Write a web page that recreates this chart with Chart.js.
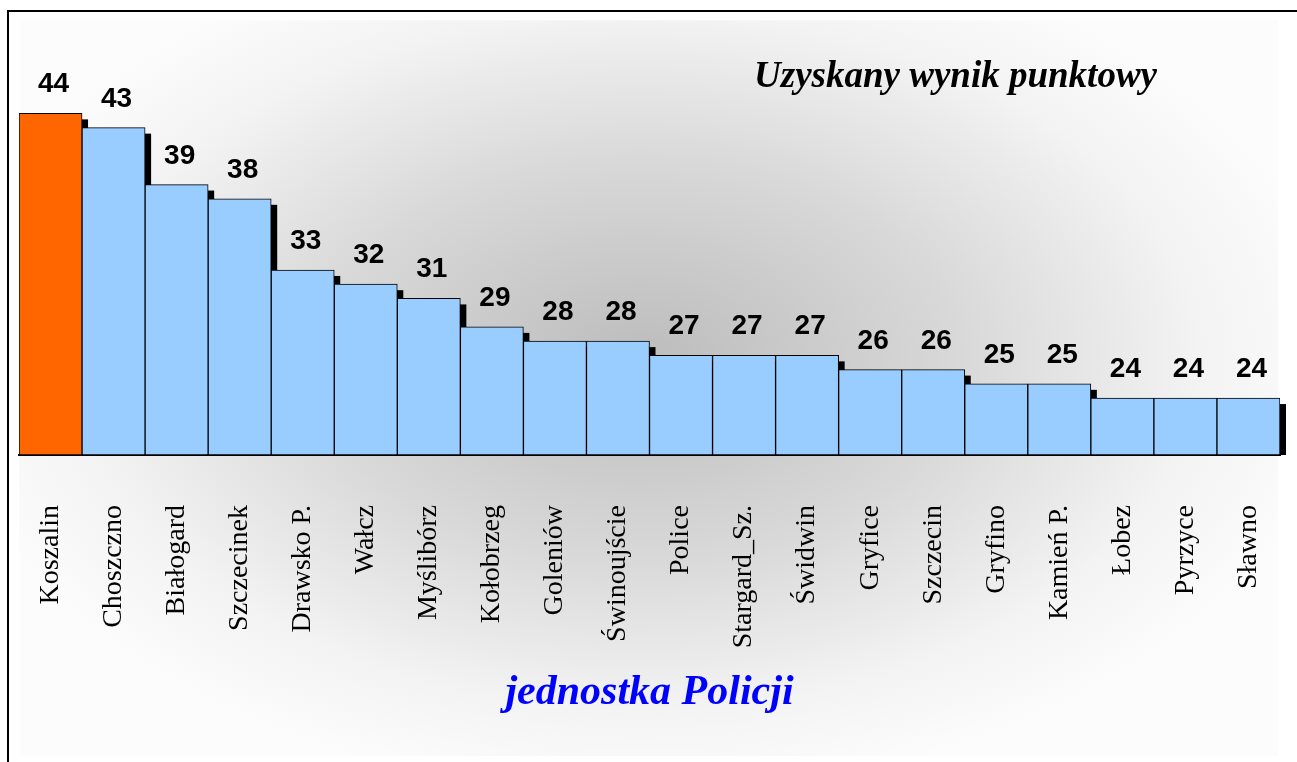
<!DOCTYPE html>
<html>
<head>
<meta charset="utf-8">
<script src="https://cdn.jsdelivr.net/npm/chart.js@4.4.0/dist/chart.umd.min.js"></script>
<style>
  body { margin: 0; background: #fff; }
  canvas { display: block; }
</style>
</head>
<body>
<canvas id="wynikChart" width="1297" height="762"></canvas>
<script>
// dane
const jednostki = ["Koszalin", "Choszczno", "Białogard", "Szczecinek", "Drawsko P.", "Wałcz", "Myślibórz",
  "Kołobrzeg", "Goleniów", "Świnoujście", "Police", "Stargard_Sz.", "Świdwin", "Gryfice", "Szczecin",
  "Gryfino", "Kamień P.", "Łobez", "Pyrzyce", "Sławno"];
const punkty = [44, 43, 39, 38, 33, 32, 31, 29, 28, 28, 27, 27, 27, 26, 26, 25, 25, 24, 24, 24];
const tytul = "Uzyskany wynik punktowy";
const tytulOsiX = "jednostka Policji";

const serif = "'Liberation Serif', 'Times New Roman', serif";
const sans = "'Liberation Sans', Arial, sans-serif";

// tlo z gradientem + ramka
const tloPlugin = {
  id: "tlo",
  beforeDraw(chart) {
    const ctx = chart.ctx;
    ctx.save();
    ctx.fillStyle = "#fff";
    ctx.fillRect(0, 0, chart.width, chart.height);
    ctx.translate(640, 360);
    ctx.scale(1, 0.62);
    const g = ctx.createRadialGradient(0, 0, 0, 0, 0, 700);
    g.addColorStop(0, "#bcbcbc");
    g.addColorStop(0.45, "#d8d8d8");
    g.addColorStop(0.8, "#f3f3f3");
    g.addColorStop(1, "#fcfcfc");
    ctx.fillStyle = g;
    ctx.fillRect(-621, -548, 1259, 1187);
    ctx.restore();

    ctx.save();
    ctx.fillStyle = "#000";
    ctx.fillRect(7, 10, chart.width - 7, 2);
    ctx.fillRect(7, 10, 2, chart.height - 10);
    ctx.restore();
  }
};

// czarny cien za slupkami
const cienPlugin = {
  id: "cien",
  beforeDatasetsDraw(chart) {
    const ctx = chart.ctx;
    const bottom = chart.chartArea.bottom;
    ctx.save();
    ctx.fillStyle = "#000";
    chart.getDatasetMeta(0).data.forEach((bar) => {
      const { x, y, width } = bar.getProps(["x", "y", "width"], true);
      ctx.fillRect(x - width / 2 + 6, y + 6, width, bottom - y - 6);
    });
    ctx.restore();
  }
};

// wartosci nad slupkami + tytul
const etykietyPlugin = {
  id: "etykiety",
  afterDatasetsDraw(chart) {
    const ctx = chart.ctx;
    ctx.save();
    ctx.fillStyle = "#000";
    ctx.font = "bold 28px " + sans;
    ctx.textAlign = "center";
    ctx.textBaseline = "alphabetic";
    chart.getDatasetMeta(0).data.forEach((bar, i) => {
      ctx.fillText(String(punkty[i]), bar.x + 3, bar.y - 21);
    });

    ctx.font = "italic bold 37px " + serif;
    ctx.textAlign = "right";
    ctx.fillText(tytul, 1157, 87);
    ctx.restore();
  }
};

const ctx = document.getElementById("wynikChart").getContext("2d");

new Chart(ctx, {
  type: "bar",
  data: {
    labels: jednostki,
    datasets: [{
      data: punkty,
      base: 20,
      backgroundColor: punkty.map((_, i) => (i === 0 ? "#FF6600" : "#99CCFF")),
      borderColor: "#000",
      borderWidth: 1,
      borderSkipped: false,
      barPercentage: 1,
      categoryPercentage: 1
    }]
  },
  options: {
    responsive: false,
    animation: false,
    layout: { padding: { left: 19, right: 17, top: 28, bottom: 0 } },
    plugins: {
      legend: { display: false },
      tooltip: { enabled: false }
    },
    scales: {
      x: {
        grid: { display: false, drawTicks: false },
        border: { display: true, color: "#000", width: 2 },
        ticks: {
          color: "#000",
          font: { family: serif, size: 28 },
          minRotation: 90,
          maxRotation: 90,
          autoSkip: false,
          padding: 50
        },
        title: {
          display: true,
          text: tytulOsiX,
          color: "#0000FF",
          font: { family: serif, size: 42, style: "italic", weight: "bold" },
          padding: { top: 0, bottom: 44 }
        },
        afterFit(scale) {
          scale.height = 307;
          scale.paddingLeft = 0;
          scale.paddingRight = 0;
        }
      },
      y: {
        display: false,
        min: 20,
        max: 50
      }
    }
  },
  plugins: [tloPlugin, cienPlugin, etykietyPlugin]
});
</script>
</body>
</html>
